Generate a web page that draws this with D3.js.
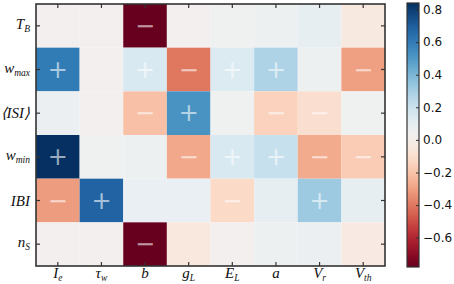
<!DOCTYPE html>
<html lang="en">
<head>
<meta charset="UTF-8">
<title>Sensitivity heatmap</title>
<style>
    body { margin: 0; background: #fff; }
    svg text { fill: #111; }
    .mathlab { font-family: "Liberation Serif", serif; font-style: italic; }
</style>
</head>
<body>
<svg id="chart" width="454" height="284"></svg>
<script src="https://cdn.jsdelivr.net/npm/d3@7"></script>
<script>
// parameters (columns) and features (rows)
const params = ["I", "τ", "b", "g", "E", "a", "V", "V"];
const paramSubs = ["e", "w", "", "L", "L", "", "r", "th"];
const features = ["T", "w", "⟨ISI⟩", "w", "IBI", "n"];
const featureSubs = ["B", "max", "", "min", "", "S"];

// correlation values, one array per row
const rowTB   = [0.03, 0.03, -0.78, 0.03, 0.05, 0.06, 0.09, -0.04];
const rowWmax = [0.60, 0.03, 0.15, -0.40, 0.14, 0.28, 0.06, -0.30];
const rowISI  = [0.07, 0.03, -0.21, 0.52, 0.05, -0.15, -0.10, 0.05];
const rowWmin = [0.85, 0.05, 0.06, -0.28, 0.15, 0.21, -0.27, -0.17];
const rowIBI  = [-0.31, 0.68, 0.08, 0.08, -0.12, 0.09, 0.32, 0.09];
const rowNS   = [0.03, 0.03, -0.78, -0.05, 0.03, 0.06, 0.07, -0.03];
const values = [rowTB, rowWmax, rowISI, rowWmin, rowIBI, rowNS];

// sign markers
const signs = [
    ["", "", "-", "", "", "", "", ""],
    ["+", "", "+", "-", "+", "+", "", "-"],
    ["", "", "-", "+", "", "-", "-", ""],
    ["+", "", "", "-", "+", "+", "-", "-"],
    ["-", "+", "", "", "-", "", "+", ""],
    ["", "", "-", "", "", "", "", ""]
];

const cbTicks = [0.8, 0.6, 0.4, 0.2, 0.0, -0.2, -0.4, -0.6];
const vmin = -0.78, vmax = 0.84;

const svg = d3.select("#chart");
const plotL = 36, plotR = 385, plotT = 4, plotB = 266;

const x = d3.scaleBand().domain(d3.range(params.length)).range([plotL, plotR]);
const y = d3.scaleBand().domain(d3.range(features.length)).range([plotT, plotB]);
const color = d3.scaleSequential(t => d3.interpolateRdBu(t)).domain([vmin, vmax]);

const cells = [];
values.forEach((row, i) => row.forEach((v, j) => cells.push({i, j, v, s: signs[i][j]})));

svg.append("g").selectAll("rect")
    .data(cells)
    .enter().append("rect")
    .attr("x", d => x(d.j))
    .attr("y", d => y(d.i))
    .attr("width", x.bandwidth())
    .attr("height", y.bandwidth())
    .attr("fill", d => color(d.v));

svg.append("g").selectAll("text")
    .data(cells.filter(d => d.s))
    .enter().append("text")
    .attr("x", d => x(d.j) + x.bandwidth() / 2)
    .attr("y", d => y(d.i) + y.bandwidth() / 2)
    .attr("text-anchor", "middle")
    .attr("dominant-baseline", "central")
    .style("font-family", "DejaVu Sans")
    .style("font-size", "24px")
    .style("fill", "#fff")
    .style("fill-opacity", 0.6)
    .text(d => d.s === "+" ? "+" : "\u2212");

// axes with inward ticks on all sides
const tickLen = 4;
const bx = svg.append("g").attr("transform", `translate(0,${plotB})`)
    .call(d3.axisBottom(x).tickSize(-tickLen).tickFormat(""));
const tx = svg.append("g").attr("transform", `translate(0,${plotT})`)
    .call(d3.axisTop(x).tickSize(-tickLen).tickFormat(""));
const ly = svg.append("g").attr("transform", `translate(${plotL},0)`)
    .call(d3.axisLeft(y).tickSize(-tickLen).tickFormat(""));
const ry = svg.append("g").attr("transform", `translate(${plotR},0)`)
    .call(d3.axisRight(y).tickSize(-tickLen).tickFormat(""));
[bx, tx, ly, ry].forEach(g => {
    g.select(".domain").remove();
    g.selectAll(".tick line").attr("stroke", "#333").attr("stroke-width", 1.2);
});

svg.append("rect")
    .attr("x", plotL).attr("y", plotT)
    .attr("width", plotR - plotL).attr("height", plotB - plotT)
    .attr("fill", "none").attr("stroke", "#333").attr("stroke-width", 1.6);

// row labels
const rowLab = svg.append("g").selectAll("text")
    .data(features)
    .enter().append("text")
    .attr("class", "mathlab")
    .attr("x", plotL - 6)
    .attr("y", (d, i) => y(i) + y.bandwidth() / 2 + (featureSubs[i] ? 3 : 5))
    .attr("text-anchor", "end")
    .style("font-size", "15px");
rowLab.append("tspan").text(d => d);
rowLab.append("tspan")
    .attr("dy", 3)
    .style("font-size", "9.5px")
    .text((d, i) => featureSubs[i]);

// column labels
const colLab = svg.append("g").selectAll("text")
    .data(params)
    .enter().append("text")
    .attr("class", "mathlab")
    .attr("x", (d, i) => x(i) + x.bandwidth() / 2)
    .attr("y", 278)
    .attr("text-anchor", "middle")
    .style("font-size", "15px");
colLab.append("tspan").text(d => d);
colLab.append("tspan")
    .attr("dy", 3)
    .style("font-size", "9.5px")
    .text((d, i) => paramSubs[i]);

// colorbar
const cbX = 407, cbW = 12;
const cbY = d3.scaleLinear().domain([vmin, vmax]).range([267, 3]);
const defs = svg.append("defs");
const grad = defs.append("linearGradient")
    .attr("id", "cbgrad").attr("x1", 0).attr("y1", 1).attr("x2", 0).attr("y2", 0);
d3.range(0, 1.0001, 0.05).forEach(t => {
    grad.append("stop")
        .attr("offset", t)
        .attr("stop-color", color(vmin + t * (vmax - vmin)));
});
svg.append("rect")
    .attr("x", cbX).attr("y", cbY(vmax))
    .attr("width", cbW).attr("height", cbY(vmin) - cbY(vmax))
    .attr("fill", "url(#cbgrad)")
    .attr("stroke", "#333").attr("stroke-width", 1.2);

const cbAxis = svg.append("g").attr("transform", `translate(${cbX + cbW},0)`)
    .call(d3.axisRight(cbY).tickValues(cbTicks).tickSize(-3)
        .tickFormat(d => d3.format(".1f")(d).replace("-", "\u2212")));
cbAxis.select(".domain").remove();
cbAxis.selectAll(".tick line").attr("stroke", "#333");
cbAxis.selectAll(".tick text")
    .attr("x", 4)
    .style("font-family", "DejaVu Sans")
    .style("font-size", "12px")
    .style("fill", "#111");
</script>
</body>
</html>
